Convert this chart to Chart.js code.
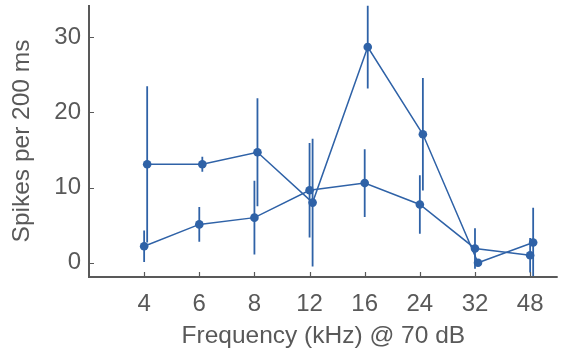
<!DOCTYPE html>
<html>
<head>
<meta charset="utf-8">
<script src="https://cdn.jsdelivr.net/npm/chart.js@4"></script>
<style>
  html, body { margin: 0; padding: 0; background: #fff; }
  #wrap { width: 562px; height: 353px; }
</style>
</head>
<body>
<div id="wrap"><canvas id="chart" width="562" height="353"></canvas></div>
<script>
// frequencies (kHz) shown as equally spaced categories
const freqLabels = ['4', '6', '8', '12', '16', '24', '32', '48'];
const yTicks = [0, 10, 20, 30];

// series A (peaks at 16 kHz)
const meanA = [13.1, 13.1, 14.7, 8.0, 28.7, 17.1, 0.0, 2.7];
const errA = [10.4, 1.0, 7.2, 8.5, 5.5, 7.5, 0.0, 4.6];
// series B (flatter)
const meanB = [2.2, 5.1, 6.0, 9.65, 10.6, 7.75, 1.9, 1.0];
const errB = [2.1, 2.3, 4.9, 6.3, 4.5, 3.9, 2.7, 2.3];

const blue = '#2f62a7';
const grey = '#595959';
const font = "'Liberation Sans', Arial, sans-serif";

// small horizontal jitter so the two series don't overlap exactly
function pts(means, errs, shift) {
    return means.map((m, i) => ({ x: i + 1 + shift, y: m, err: errs[i] }));
}

const errorBars = {
    id: 'errorBars',
    beforeDatasetsDraw(chart) {
        const ctx = chart.ctx;
        const xs = chart.scales.x, ys = chart.scales.y;
        const area = chart.chartArea;
        ctx.save();
        ctx.beginPath();
        ctx.rect(area.left, area.top, area.right - area.left, area.bottom - area.top + 2);
        ctx.clip();
        ctx.strokeStyle = blue;
        ctx.lineWidth = 1.8;
        chart.data.datasets.forEach(ds => {
            ds.data.forEach(p => {
                if (!p.err) return;
                const px = xs.getPixelForValue(p.x);
                ctx.beginPath();
                ctx.moveTo(px, ys.getPixelForValue(p.y - p.err));
                ctx.lineTo(px, ys.getPixelForValue(p.y + p.err));
                ctx.stroke();
            });
        });
        ctx.restore();
    },
    afterDraw(chart) {
        // axis lines and inward tick marks
        const ctx = chart.ctx;
        const xs = chart.scales.x, ys = chart.scales.y;
        const a = chart.chartArea;
        ctx.save();
        ctx.strokeStyle = grey;
        ctx.lineWidth = 2;
        ctx.beginPath();
        ctx.moveTo(a.left, a.top);
        ctx.lineTo(a.left, a.bottom);
        ctx.lineTo(a.right, a.bottom);
        ctx.stroke();
        ctx.lineWidth = 1.2;
        ctx.beginPath();
        freqLabels.forEach((l, i) => {
            const px = Math.round(xs.getPixelForValue(i + 1)) + 0.5;
            ctx.moveTo(px, a.bottom);
            ctx.lineTo(px, a.bottom - 5);
        });
        yTicks.forEach(v => {
            const py = Math.round(ys.getPixelForValue(v)) + 0.5;
            ctx.moveTo(a.left, py);
            ctx.lineTo(a.left + 5, py);
        });
        ctx.stroke();
        ctx.restore();
    }
};

function noPad(s) {
    s.paddingTop = 0; s.paddingBottom = 0; s.paddingLeft = 0; s.paddingRight = 0;
}

new Chart(document.getElementById('chart'), {
    type: 'scatter',
    data: {
        datasets: [{
            data: pts(meanA, errA, 0.055),
            showLine: true,
            borderColor: blue,
            backgroundColor: blue,
            borderWidth: 1.5,
            pointRadius: 4.3,
            pointBorderWidth: 0
        }, {
            data: pts(meanB, errB, 0),
            showLine: true,
            borderColor: blue,
            backgroundColor: blue,
            borderWidth: 1.5,
            pointRadius: 4.3,
            pointBorderWidth: 0
        }]
    },
    options: {
        responsive: false,
        animation: false,
        layout: { padding: { top: 5, right: 0, left: 0, bottom: 0 } },
        plugins: {
            legend: { display: false },
            tooltip: { enabled: false }
        },
        scales: {
            x: {
                type: 'linear',
                min: 0,
                max: 8.5,
                afterBuildTicks: s => { s.ticks = freqLabels.map((l, i) => ({ value: i + 1 })); },
                afterFit: s => { s.height = 76; noPad(s); },
                border: { display: false },
                grid: { display: false, drawTicks: false, tickLength: 0 },
                ticks: {
                    autoSkip: false,
                    maxRotation: 0,
                    padding: 13,
                    color: grey,
                    font: { family: font, size: 24 },
                    callback: v => freqLabels[Math.round(v) - 1]
                },
                title: {
                    display: true,
                    text: 'Frequency (kHz) @ 70 dB',
                    color: grey,
                    font: { family: font, size: 24.5 },
                    padding: { top: 0, bottom: 2 }
                }
            },
            y: {
                min: -1.9,
                max: 34.3,
                afterBuildTicks: s => { s.ticks = yTicks.map(v => ({ value: v })); },
                afterFit: s => { s.width = 89; noPad(s); },
                border: { display: false },
                grid: { display: false, drawTicks: false, tickLength: 0 },
                ticks: {
                    padding: 8,
                    color: grey,
                    font: { family: font, size: 24 }
                },
                title: {
                    display: true,
                    text: 'Spikes per 200 ms',
                    color: grey,
                    font: { family: font, size: 24.5 },
                    padding: { top: 8, bottom: 0 }
                }
            }
        }
    },
    plugins: [errorBars]
});
</script>
</body>
</html>
